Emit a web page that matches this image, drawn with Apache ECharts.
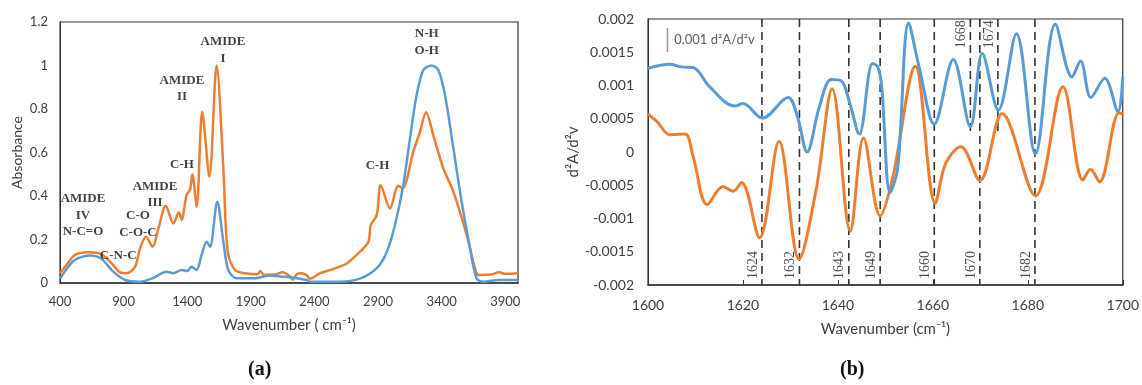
<!DOCTYPE html>
<html>
<head>
<meta charset="utf-8">
<script src="https://cdn.jsdelivr.net/npm/echarts@6/dist/echarts.min.js"></script>
<style>html,body{margin:0;padding:0;background:#fff;}#c{width:1142px;height:385px;}</style>
</head>
<body>
<div id="c"></div>
<script>
// ---------- Panel (a): FTIR absorbance spectra ----------
const aOrange = [[400,.045],[460,.09],[518,.129],[622,.141],[727,.132],[806,.09],[872,.049],[924,.045],[990,.075],[1029,.16],[1076,.213],[1128,.167],[1173,.25],[1231,.355],[1291,.274],[1335,.325],[1356,.29],[1395,.405],[1422,.428],[1440,.50],[1474,.35],[1518,.787],[1574,.489],[1631,1.0],[1684,.527],[1718,.144],[1776,.06],[1854,.045],[1950,.04],[1975,.055],[2000,.038],[2100,.04],[2150,.05],[2200,.035],[2230,.015],[2260,.04],[2300,.045],[2340,.035],[2365,.02],[2444,.045],[2550,.065],[2654,.09],[2758,.144],[2824,.19],[2843,.267],[2890,.313],[2921,.45],[2994,.343],[3059,.447],[3093,.435],[3177,.604],[3230,.696],[3277,.785],[3334,.68],[3413,.527],[3492,.42],[3597,.22],[3662,.068],[3688,.037],[3800,.04],[3850,.05],[3900,.042],[4000,.045]];
const aBlue = [[400,.02],[460,.07],[518,.106],[636,.126],[727,.11],[819,.052],[911,.014],[1029,.006],[1121,.02],[1239,.052],[1291,.045],[1356,.06],[1400,.055],[1432,.075],[1474,.06],[1513,.129],[1553,.19],[1579,.167],[1636,.374],[1684,.19],[1723,.06],[1788,.022],[1933,.022],[2000,.03],[2050,.035],[2129,.03],[2200,.028],[2339,.014],[2365,.006],[2601,.006],[2758,.02],[2890,.068],[2969,.144],[3033,.267],[3098,.45],[3151,.665],[3203,.864],[3256,.979],[3321,1.0],[3374,.979],[3426,.864],[3492,.62],[3557,.374],[3623,.16],[3675,.02],[3728,.006],[3850,.014],[4000,.014]];
const aNotes = [[1681,1.071,'AMIDE\nI'],[1359,0.893,'AMIDE\nII'],[1359,0.543,'C-H'],[1147,0.406,'AMIDE\nIII'],[1013,0.271,'C-O\nC-O-C'],[581,0.311,'AMIDE\nIV\nN-C=O'],[858,0.124,'C-N-C'],[2896,0.539,'C-H'],[3282,1.108,'N-H\nO-H']];

// ---------- Panel (b): second derivative ----------
const bBlue = [[1600,.00126],[1604.6,.00132],[1607,.00128],[1609.5,.00127],[1613,.00098],[1618.3,.00069],[1620,.00073],[1624.1,.00051],[1629.5,.00082],[1631.5,.00053],[1633.5,.0000],[1636.1,.00068],[1638.6,.00109],[1640.7,.00107],[1642.4,.00076],[1644.5,.00027],[1647.3,.00133],[1648.4,.00128],[1649.2,.00100],[1651,-.00061],[1652.6,-.00024],[1654.9,.00194],[1657.1,.00128],[1660.3,.00042],[1664.3,.00139],[1667.9,.00038],[1670.4,.00148],[1673.8,.00063],[1677.6,.00178],[1681.6,-.00003],[1685.8,.00192],[1689.3,.00113],[1691.1,.00137],[1693.3,.00082],[1696.2,.00111],[1699,.00061],[1700,.00113]];
const bOrange = [[1600,.00057],[1602,.00045],[1604.6,.00026],[1607.8,.00027],[1609.5,-.00007],[1612.5,-.00079],[1615.8,-.00052],[1617.9,-.00059],[1619.7,-.00046],[1623.5,-.00129],[1627.6,.00016],[1631.8,-.00161],[1635.4,-.00057],[1638.8,.00095],[1642.6,-.00119],[1645.4,.00021],[1648.9,-.00096],[1651.5,-.00040],[1656.3,.00129],[1660.5,-.00077],[1662.7,-.00017],[1665.9,.00008],[1669.9,-.00043],[1674.6,.00058],[1681.6,-.00066],[1687.4,.00098],[1691.6,-.00042],[1693.2,-.00026],[1695.1,-.00045],[1699.2,.00059],[1700,.00057]];
// dashed marker lines: position, label, lower end of line, label y
const bLinePos = [1624, 1631.9, 1642.3, 1648.9, 1660.3, 1667.9, 1669.9, 1673.7, 1681.5];
const bLineLabels = ['1624','1632','1643','1649','1660','1668','1670','1674','1682'];
const bLineBottom = [-0.002,-0.002,-0.002,-0.002,-0.002,0.00027,-0.002,0.00027,-0.002];
const bLabelY = [-0.0017,-0.0017,-0.0017,-0.0017,-0.0017,0.00177,-0.0017,0.00177,-0.0017];
const bScaleBar = [[1604.1,0.001865],[1604.1,0.001504]];
const bScaleText = [1605.4,0.00168,'0.001 d\u00b2A/d\u00b2v'];

const BLUE = '#5B9BD5', ORANGE = '#ED7D31';
const SANS = 'Lato, "DejaVu Sans", sans-serif';
const SERIF = '"Liberation Serif", "DejaVu Serif", serif';

const chart = echarts.init(document.getElementById('c'), null, {renderer:'canvas'});

const series = [];
series.push({type:'line', xAxisIndex:0, yAxisIndex:0, data:aOrange, smooth:0.3, symbol:'none', lineStyle:{color:ORANGE,width:2.5}, z:3});
series.push({type:'line', xAxisIndex:0, yAxisIndex:0, data:aBlue, smooth:0.3, symbol:'none', lineStyle:{color:BLUE,width:2.5}, z:4});
series.push({type:'scatter', xAxisIndex:0, yAxisIndex:0, symbolSize:1, itemStyle:{color:'rgba(0,0,0,0)'},
  data:aNotes.map(n=>({value:[n[0],n[1]], name:n[2]})),
  label:{show:true, position:'inside', formatter:p=>p.name, fontFamily:SERIF, fontWeight:'bold', fontSize:13, lineHeight:16.5, color:'#111', align:'center'}, z:6, silent:true});

bLinePos.forEach((x,i)=>{
  series.push({type:'line', xAxisIndex:1, yAxisIndex:1, data:[[x,0.002],[x,bLineBottom[i]]], symbol:'none',
    lineStyle:{color:'#333',width:1.6,type:[8,5]}, z:2, silent:true});
});
series.push({type:'line', xAxisIndex:1, yAxisIndex:1, data:bOrange, smooth:0.35, symbol:'none', lineStyle:{color:ORANGE,width:3}, z:3});
series.push({type:'line', xAxisIndex:1, yAxisIndex:1, data:bBlue, smooth:0.35, symbol:'none', lineStyle:{color:BLUE,width:3}, z:4});
series.push({type:'scatter', xAxisIndex:1, yAxisIndex:1, symbolSize:1, itemStyle:{color:'rgba(0,0,0,0)'},
  data:bLinePos.map((x,i)=>({value:[x,bLabelY[i]], name:bLineLabels[i]})),
  label:{show:true, position:'inside', offset:[0,-9], rotate:90, formatter:p=>p.name, fontFamily:SERIF, fontSize:14, color:'#222'}, z:6, silent:true});
series.push({type:'line', xAxisIndex:1, yAxisIndex:1, data:bScaleBar, symbol:'none', lineStyle:{color:'#999',width:1.5}, z:5, silent:true});
series.push({type:'scatter', xAxisIndex:1, yAxisIndex:1, symbolSize:1, itemStyle:{color:'rgba(0,0,0,0)'},
  data:[{value:[bScaleText[0],bScaleText[1]], name:bScaleText[2]}],
  label:{show:true, position:'right', distance:0, formatter:p=>p.name, fontFamily:SANS, fontSize:13, color:'#333'}, z:6, silent:true});

const option = {
  animation:false,
  backgroundColor:'#fff',
  grid:[
    {left:60, top:22, width:458, height:261, show:true, borderColor:'#333', borderWidth:1.2, backgroundColor:'transparent'},
    {left:648, top:19, width:476, height:266, show:true, borderColor:'#333', borderWidth:1.2, backgroundColor:'transparent'}
  ],
  xAxis:[
    {type:'value', gridIndex:0, min:400, max:4000, interval:500,
     axisLine:{show:true,onZero:false,lineStyle:{color:'#333',width:1.5}}, axisTick:{show:false}, splitLine:{show:false},
     axisLabel:{showMaxLabel:false, margin:12, fontFamily:SANS, fontSize:13, color:'#404040', formatter:v=>String(v)},
     name:'Wavenumber ( cm\u207b\u00b9)', nameLocation:'middle', nameGap:35,
     nameTextStyle:{fontFamily:SANS, fontSize:15, color:'#404040'}},
    {type:'value', gridIndex:1, min:1600, max:1700, interval:20,
     axisLine:{show:true,onZero:false,lineStyle:{color:'#333',width:1.5}}, axisTick:{show:true, inside:true, length:5, lineStyle:{color:'#333'}}, splitLine:{show:false},
     axisLabel:{margin:13, fontFamily:SANS, fontSize:14, color:'#404040', formatter:v=>String(v)},
     name:'Wavenumber (cm\u207b\u00b9)', nameLocation:'middle', nameGap:37,
     nameTextStyle:{fontFamily:SANS, fontSize:15, color:'#404040'}}
  ],
  yAxis:[
    {type:'value', gridIndex:0, min:0, max:1.2, interval:0.2,
     axisLine:{show:true,onZero:false,lineStyle:{color:'#333'}}, axisTick:{show:false}, splitLine:{show:false},
     axisLabel:{margin:12, fontFamily:SANS, fontSize:13, color:'#404040', formatter:v=>String(+v.toFixed(1))},
     name:'Absorbance', nameLocation:'middle', nameGap:36,
     nameTextStyle:{fontFamily:SANS, fontSize:14, color:'#404040'}},
    {type:'value', gridIndex:1, min:-0.002, max:0.002, interval:0.0005,
     axisLine:{show:true,onZero:false,lineStyle:{color:'#333'}}, axisTick:{show:false}, splitLine:{show:false},
     axisLabel:{margin:14, fontFamily:SANS, fontSize:14, color:'#404040', formatter:v=>String(+v.toFixed(4))},
     name:'d\u00b2A/d\u00b2v', nameLocation:'middle', nameGap:62,
     nameTextStyle:{fontFamily:SANS, fontSize:15, color:'#404040'}}
  ],
  graphic:[
    {type:'text', left:248, top:360, style:{text:'(a)', font:'bold 20px "Liberation Serif", serif', fill:'#111'}},
    {type:'text', left:840, top:360, style:{text:'(b)', font:'bold 20px "Liberation Serif", serif', fill:'#111'}}
  ],
  series:series
};
chart.setOption(option);
</script>
</body>
</html>
